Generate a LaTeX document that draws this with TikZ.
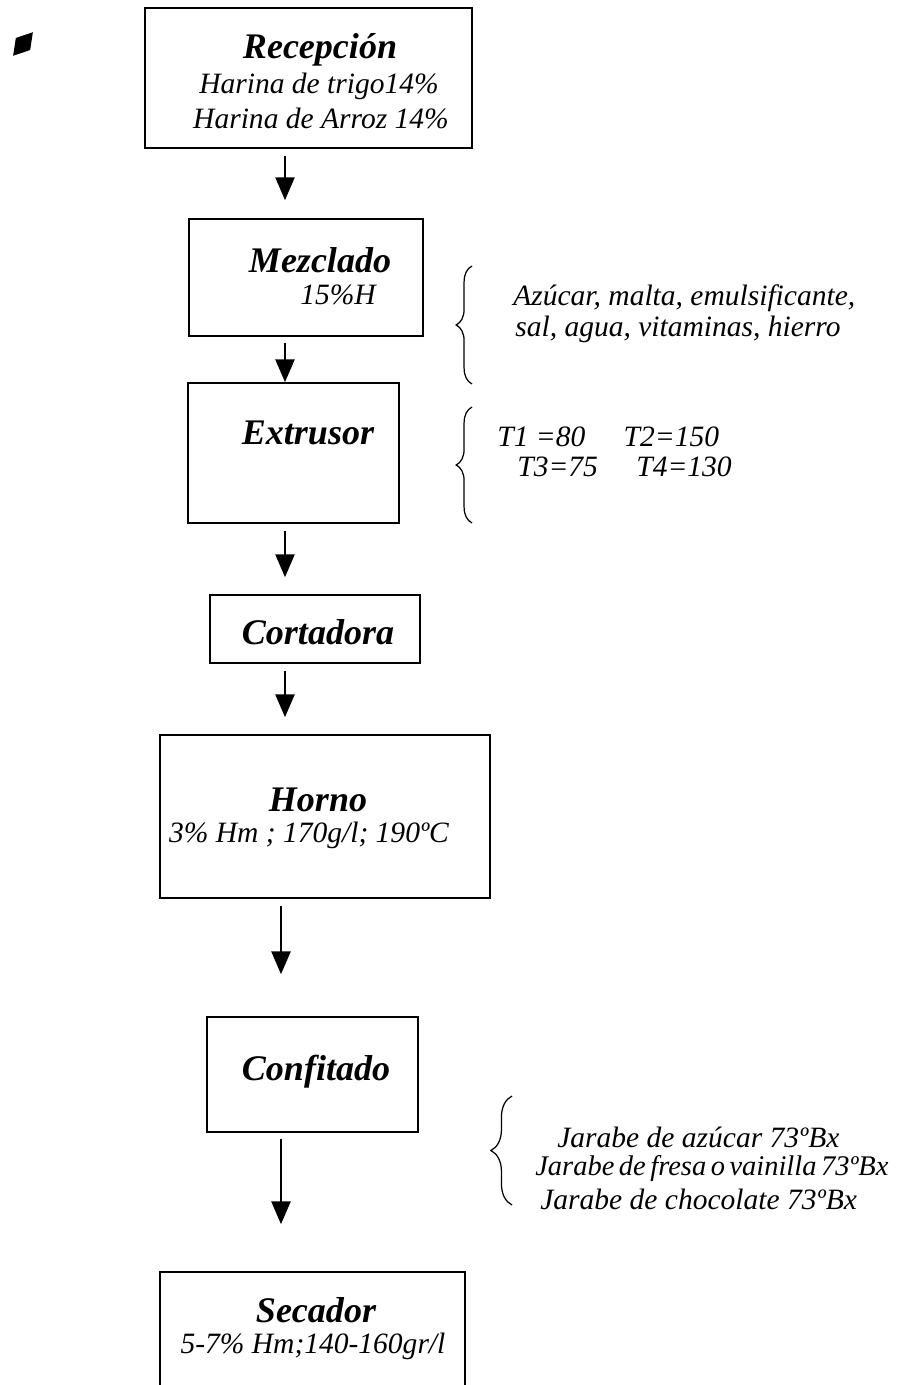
\documentclass[tikz,border=0pt]{standalone}
\usepackage{fontspec}
\setmainfont{Liberation Serif}
\usetikzlibrary{shapes.geometric, arrows.meta, decorations.pathreplacing}
\tikzstyle{caja} = [rectangle, draw, line width=1pt, inner sep=0pt]
\tikzstyle{titulo} = [font=\fontsize{20.5}{24}\selectfont\bfseries\itshape, inner sep=0pt]
\tikzstyle{dato} = [font=\fontsize{16.8}{20}\selectfont\itshape, inner sep=0pt]
\tikzstyle{llave} = [decorate, decoration={brace, amplitude=9pt}, line width=0.7pt]
\tikzstyle{flecha} = [line width=0.9pt, -{Triangle[width=11pt,length=13pt]}]

\begin{document}
\begin{tikzpicture}[x=0.02cm, y=-0.02cm]
            \useasboundingbox (0,0) rectangle (897,1385);
            \coordinate (eje) at (285,0);
            \coordinate (eje2) at (281,0);

            \node [diamond, fill=black, minimum width=0.62cm, minimum height=0.38cm, inner sep=0pt, rotate=50] at (23,44) (marca) {};

            \node [caja, minimum width=6.54cm, minimum height=2.8cm] at (308.5,78) (recep) {};
            \node [caja, minimum width=4.68cm, minimum height=2.34cm] at (306,277.5) (mezcla) {};
            \node [caja, minimum width=4.22cm, minimum height=2.8cm] at (293.5,453) (extru) {};
            \node [caja, minimum width=4.2cm, minimum height=1.36cm] at (315,629) (corta) {};
            \node [caja, minimum width=6.6cm, minimum height=3.26cm] at (325,816.5) (horno) {};
            \node [caja, minimum width=4.22cm, minimum height=2.3cm] at (312.5,1074.5) (confi) {};
            \node [caja, minimum width=6.1cm, minimum height=2.56cm] at (312.5,1336) (secad) {};

            \node [titulo] at (320,50) (t1) {Recepción};
            \node [dato] at (319,86) (t1a) {Harina de trigo14\%};
            \node [dato] at (321,118) (t1b) {Harina de Arroz 14\%};
            \node [titulo] at (320,260) (t2) {Mezclado};
            \node [dato] at (338,295) (t2a) {15\%H};
            \node [titulo] at (308,433) (t3) {Extrusor};
            \node [titulo] at (318,632) (t4) {Cortadora};
            \node [titulo] at (318,800) (t5) {Horno};
            \node [dato] at (309,835) (t5a) {3\% Hm ; 170g/l; 190ºC};
            \node [titulo] at (316,1072) (t6) {Confitado};
            \node [titulo] at (316,1310) (t7) {Secador};
            \node [dato] at (313,1346) (t7a) {5-7\% Hm;140-160gr/l};

            \node [dato, anchor=west] at (513,298) (ing1) {Azúcar, malta, emulsificante,};
            \node [dato, anchor=west] at (515,329) (ing2) {sal, agua, vitaminas, hierro};
            \node [dato, anchor=west] at (497,437) (temp1) {T1 =80\hspace{1.3em}T2=150};
            \node [dato, anchor=west] at (517,467) (temp2) {T3=75\hspace{1.3em}T4=130};
            \node [dato, anchor=west] at (557,1137) (jar1) {Jarabe de azúcar 73ºBx};
            \node [dato, anchor=west, font=\fontsize{16.2}{20}\selectfont\itshape] at (535,1168) (jar2) {\spaceskip=0.16em\relax Jarabe de fresa o vainilla 73ºBx};
            \node [dato, anchor=west] at (540,1199) (jar3) {Jarabe de chocolate 73ºBx};

            \draw [llave] (472,384) -- (472,266);
            \draw [llave] (472,523) -- (472,407);
            \draw [llave, decoration={amplitude=12pt}] (512,1205) -- (512,1096);

            \draw [flecha, shorten <=0.14cm, shorten >=0.36cm] (recep.south -| eje) -- (mezcla.north -| eje);
            \draw [flecha, shorten <=0.12cm] (mezcla.south -| eje) -- (extru.north -| eje);
            \draw [flecha, shorten <=0.14cm, shorten >=0.34cm] (extru.south -| eje) -- (corta.north -| eje);
            \draw [flecha, shorten <=0.14cm, shorten >=0.34cm] (corta.south -| eje) -- (horno.north -| eje);
            \draw [flecha, shorten <=0.14cm, shorten >=0.84cm] (horno.south -| eje2) -- (confi.north -| eje2);
            \draw [flecha, shorten <=0.12cm, shorten >=0.94cm] (confi.south -| eje2) -- (secad.north -| eje2);
\end{tikzpicture}
\end{document}
